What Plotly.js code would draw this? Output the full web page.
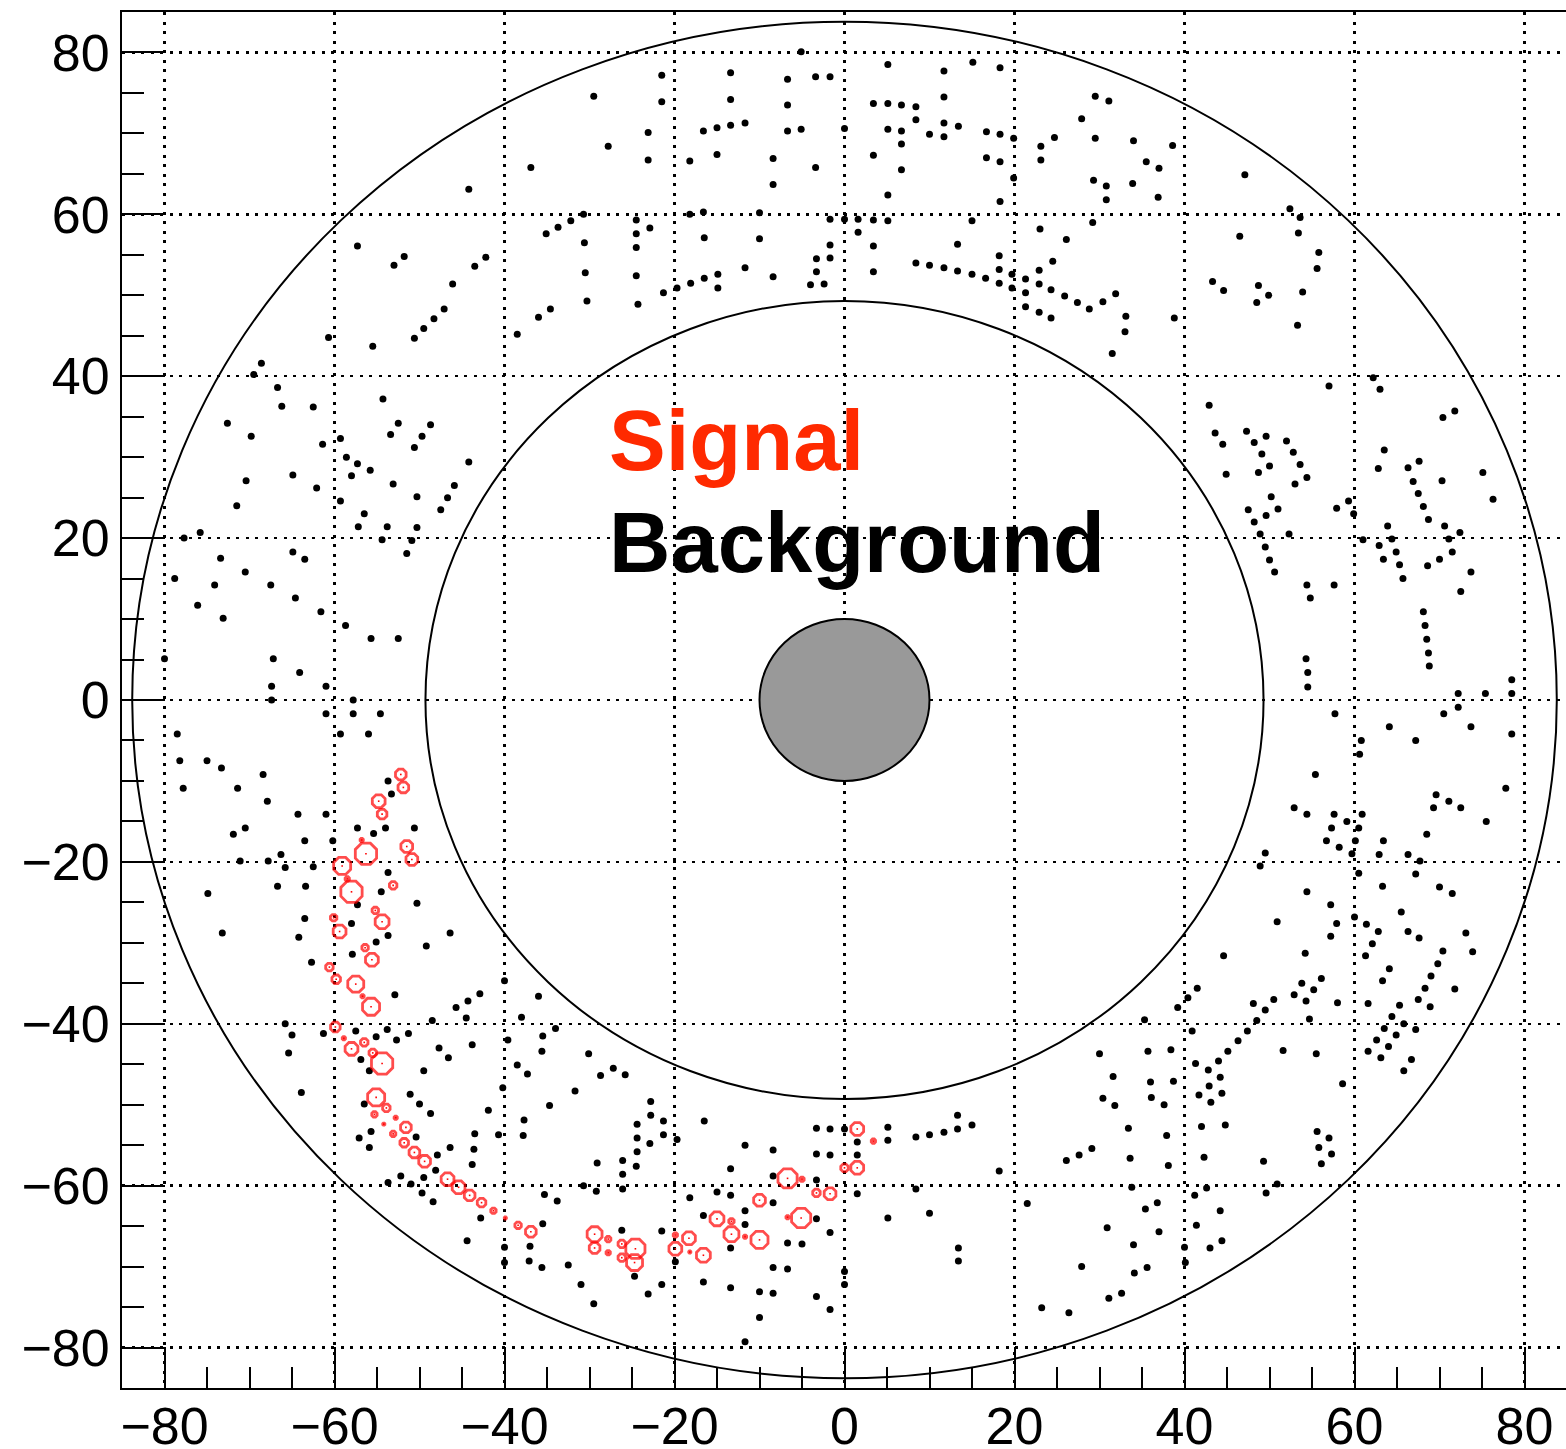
<!DOCTYPE html>
<html>
<head>
<meta charset="utf-8">
<script src="https://cdn.plot.ly/plotly-3.0.1.min.js"></script>
<style>
  html, body { margin: 0; padding: 0; background: #ffffff; overflow: hidden; }
  #plot { width: 1570px; height: 1449px; }
</style>
</head>
<body>
<div id="plot"></div>
<script>
// Detector geometry (cm)
const beamPipeRadius = 10;
const innerWallRadius = 49.3;
const outerWallRadius = 83.8;

// Axis ticks
const tickValues = [-80, -60, -40, -20, 0, 20, 40, 60, 80];

// Background hits [x, y], grouped by region of the chamber
const bgUpperLeft = [
  [-44.2,63.1],[-57.3,56.1],[-51.8,54.8],[-53.0,53.7],[-42.2,54.7],[-43.5,53.6],[-46.1,51.4],[-47.1,48.3],
  [-48.3,47.1],[-49.5,45.9],[-50.6,44.7],[-55.5,43.7],[-60.7,44.8],[-68.6,41.6],[-69.5,40.2],[-66.7,38.6],
  [-66.2,36.3],[-62.5,36.2],[-54.3,37.2],[-52.5,34.2],[-53.4,32.8],[-48.7,34.0],[-49.7,32.6],[-50.6,31.2],
  [-72.6,34.2],[-69.8,32.6],[-61.4,31.6],[-59.3,32.3],[-58.6,30.0],[-57.3,29.2],[-55.8,28.4],[-44.2,29.4]
];
const bgUpperCentreLeft = [
  [-29.5,74.6],[-21.5,77.2],[-21.5,73.9],[-36.9,65.8],[-27.8,68.4],[-23.1,70.1],[-23.1,66.7],[-13.4,77.5],
  [-13.4,74.2],[-16.6,70.3],[-15.0,70.7],[-13.4,71.0],[-11.7,71.3],[-18.2,66.6],[-15.0,67.4],[-6.7,76.7],
  [-6.7,73.5],[-6.7,70.3],[-5.1,70.5],[-5.1,80.1],[-3.4,77.0],[-1.7,77.0],[-8.4,66.9],[-8.4,63.7],
  [-3.4,65.8],[0.0,70.6],[-30.7,60.0],[-32.2,59.2],[-33.7,58.4],[-35.1,57.6],[-30.6,56.5],[-30.5,52.8],
  [-30.3,49.3],[-34.6,48.3],[-36.0,47.3],[-38.5,45.2],[-24.5,59.3],[-24.5,57.6],[-24.5,55.9],[-22.9,58.3],
  [-24.5,52.4],[-24.3,48.9],[-21.3,50.3],[-19.7,50.9],[-18.1,51.5],[-16.5,52.1],[-14.9,52.6],[-14.9,50.9],
  [-18.2,60.0],[-16.6,60.3],[-16.5,57.1],[-11.7,53.4],[-10.0,60.2],[-10.0,57.0],[-8.4,52.3],[-4.0,51.3],
  [-2.4,51.4],[-3.3,52.9],[-3.3,54.5],[-1.7,54.6],[-1.7,56.2],[-1.7,59.4],[0.0,59.4],[1.6,59.4],[1.6,57.8]
];
const bgUpperCentreRight = [
  [5.1,78.5],[11.7,77.7],[15.1,78.8],[18.3,78.1],[11.7,74.5],[3.4,73.7],[5.1,73.7],[6.7,73.5],[8.4,73.3],
  [8.4,71.7],[11.7,71.3],[13.4,70.9],[11.7,69.6],[10.0,69.9],[5.1,70.5],[6.7,70.3],[6.7,68.7],[3.4,67.3],
  [6.7,65.5],[5.1,62.4],[16.7,70.2],[18.3,69.9],[16.7,67.0],[18.3,66.5],[19.9,69.4],[19.9,64.5],[18.3,61.6],
  [23.1,68.4],[23.1,66.7],[24.7,69.5],[27.9,71.8],[29.5,74.6],[31.1,74.0],[29.5,69.4],[34.0,69.1],[38.6,68.5],
  [35.5,66.5],[37.0,65.7],[29.3,64.2],[30.8,63.5],[30.8,61.8],[33.9,63.8],[36.9,62.1],
  [3.4,59.3],[5.1,59.2],[3.4,56.1],[3.4,52.9],[15.0,59.2],[13.3,56.3],[8.4,54.0],[10.0,53.7],[11.7,53.4],
  [13.3,53.0],[15.0,52.6],[16.6,52.1],[18.2,51.5],[18.2,53.2],[18.2,54.9],[19.7,52.6],[19.7,50.9],[21.3,52.0],
  [21.3,50.3],[21.3,48.6],[22.9,53.1],[22.9,51.4],[22.9,47.9],[24.3,50.7],[24.3,47.2],[24.5,54.2],[23.0,58.2],
  [26.1,56.9],[29.2,59.0],[25.9,49.9],[27.4,49.1],[28.8,48.3],[30.4,49.2],[31.9,50.2],[33.1,47.4],[33.0,45.5],
  [31.5,42.8],[38.8,47.2],[43.3,51.7],[44.6,50.6],[42.9,36.4],[43.6,33.0],[44.5,31.6],[44.9,27.9]
];
const bgUpperRight = [
  [47.1,64.9],[52.4,60.7],[53.6,59.6],[46.5,57.3],[53.4,57.7],[55.8,55.3],[55.6,53.3],[48.7,51.2],[49.9,50.0],
  [48.5,49.1],[53.9,50.4],[53.3,46.3],[57.0,38.8],[62.2,39.8],[63.0,38.4],[70.4,34.9],[71.8,35.7],[47.3,33.2],
  [48.2,31.8],[49.6,32.6],[49.1,30.4],[50.0,28.9],[52.0,32.0],[52.8,30.6],[53.6,29.1],[48.7,28.1],[63.5,30.9],
  [62.8,28.6],[66.3,28.7],[67.6,29.5],[75.1,28.1]
];
const bgMidLeft = [
  [-70.4,27.1],[-64.9,27.8],[-62.1,26.2],[-71.5,24.0],[-75.8,20.7],[-77.7,20.0],[-58.0,27.7],[-53.1,26.7],
  [-59.3,24.6],[-56.5,23.0],[-57.2,21.4],[-53.8,21.4],[-50.3,25.1],[-50.3,21.3],[-54.4,19.8],[-50.9,19.7],
  [-51.5,18.1],[-45.9,26.5],[-46.7,25.0],[-47.5,23.5],[-73.4,17.5],[-78.8,15.0],[-74.1,14.2],[-70.5,15.8],
  [-76.1,11.7],[-73.1,10.1],[-67.5,14.2],[-64.9,18.3],[-63.5,17.4],[-64.6,12.6],[-61.6,10.9],[-58.7,9.2],
  [-55.7,7.6],[-52.5,7.6],[-80.0,5.1],[-67.2,5.1],[-64.1,3.4],[-67.4,1.7],[-67.4,0.0],[-61.0,1.7],[-61.0,-1.7],
  [-57.8,0.0],[-57.8,-1.7],[-54.6,-1.7],[-59.3,-4.2],[-56.0,-4.2],[-78.5,-4.2],[-78.2,-7.5],[-75.0,-7.5],
  [-73.3,-8.4],[-68.4,-9.2],[-77.8,-10.9],[-71.4,-10.9],[-67.9,-12.5],[-64.3,-14.1],[-61.0,-14.1],[-70.5,-15.8],
  [-71.9,-16.6],[-63.5,-17.4],[-60.2,-17.4],[-66.3,-19.1],[-71.1,-19.9],[-67.8,-19.9],[-65.8,-20.7],[-62.5,-20.6],
  [-66.7,-23.0],[-63.4,-23.0],[-74.9,-23.9],[-57.3,-15.8],[-54.0,-15.8],[-50.6,-15.8],[-55.4,-16.5],[-53.7,-10.0],
  [-53.3,-11.6],[-53.7,-21.3],[-54.5,-23.7],[-57.3,-25.3],[-50.3,-25.1],[-63.5,-27.0],[-58.0,-27.6]
];
const bgMidRight = [
  [54.4,27.5],[53.0,26.7],[50.2,25.1],[47.5,23.5],[51.0,23.6],[49.6,22.8],[48.2,22.0],[48.9,20.5],[52.3,20.5],
  [49.5,18.9],[50.0,17.3],[50.6,15.8],[57.9,23.7],[59.3,24.6],[59.9,23.0],[66.9,27.0],[70.3,27.1],[76.3,24.8],
  [67.5,25.5],[68.1,23.9],[68.7,22.3],[70.6,21.5],[72.4,20.7],[63.9,21.5],[61.0,19.8],[64.4,19.9],[71.1,19.9],
  [62.9,19.1],[63.4,17.4],[64.9,18.3],[65.3,16.7],[65.7,15.0],[68.6,16.6],[70.0,17.4],[71.5,18.3],[73.7,15.8],
  [72.5,13.4],[54.4,14.2],[54.8,12.6],[57.6,14.2],[68.1,10.9],[68.3,9.2],[68.5,7.5],[68.7,5.8],[68.8,4.2],
  [54.3,5.1],[54.5,3.4],[54.5,1.6],[78.5,2.5],[78.5,0.8],[75.4,0.8],[72.2,0.8],[72.2,-0.9],[70.5,-1.7],
  [73.7,-3.3],[78.5,-4.2],[64.1,-3.3],[67.2,-5.0],[57.7,-1.7],[60.8,-5.0],[60.6,-6.7],[55.4,-9.2],[77.8,-10.9],
  [69.6,-11.7],[71.1,-12.5],[69.3,-13.3],[72.5,-13.3],[75.5,-15.0],[68.5,-16.6],[52.9,-13.3],[54.4,-14.1],
  [57.6,-14.1],[60.9,-14.1],[59.1,-15.0],[57.3,-15.8],[60.5,-15.8],[56.7,-17.4],[60.1,-17.4],[58.2,-18.2],
  [59.7,-19.0],[63.4,-17.4],[62.9,-19.1],[66.3,-19.1],[67.7,-19.9],[49.5,-18.9],[48.9,-20.5],[60.5,-21.4],
  [67.2,-21.5],[54.4,-23.7],[63.3,-23.0],[70.0,-23.1],[71.5,-23.9],[57.2,-25.3],[65.5,-26.2],[50.9,-27.4],
  [57.9,-27.6],[60.0,-26.8],[61.4,-27.7]
];
const bgLowerLeft = [
  [-73.2,-28.8],[-64.2,-29.3],[-62.7,-32.4],[-57.9,-31.4],[-55.1,-29.9],[-53.7,-29.1],[-49.2,-30.4],[-46.4,-28.8],
  [-52.9,-36.4],[-42.9,-36.3],[-44.3,-37.2],[-45.7,-38.0],[-44.5,-39.3],[-48.5,-39.6],[-65.8,-40.0],[-65.0,-41.4],
  [-61.3,-41.2],[-65.4,-43.6],[-57.5,-40.9],[-53.8,-40.7],[-55.1,-41.6],[-52.7,-42.0],[-51.3,-41.2],[-56.9,-44.4],
  [-55.9,-45.8],[-47.7,-43.0],[-46.6,-44.2],[-49.5,-45.8],[-43.8,-42.6],[-63.9,-48.5],[-56.5,-49.9],[-51.1,-48.7],
  [-50.0,-49.9],[-48.7,-51.1],[-41.9,-50.7],[-55.7,-53.3],[-57.1,-54.1],[-55.9,-55.3],[-50.4,-54.0],[-43.5,-53.6],
  [-43.6,-55.5],[-46.4,-55.3],[-47.9,-56.2],[-43.8,-57.4],[-48.1,-58.1],[-49.5,-59.0],[-52.2,-58.8],[-53.7,-59.6],
  [-51.0,-59.8],[-49.7,-60.9],[-48.4,-62.0],[-42.8,-64.0],[-44.4,-66.8]
];
const bgLowerCentreLeft = [
  [-40.0,-34.7],[-36.0,-36.6],[-38.0,-39.2],[-34.0,-40.6],[-35.5,-41.5],[-39.6,-42.0],[-35.6,-43.4],[-38.5,-45.1],
  [-37.3,-46.2],[-30.1,-43.7],[-28.7,-46.4],[-27.2,-45.5],[-25.8,-46.3],[-31.7,-48.3],[-40.2,-47.9],[-34.7,-50.1],
  [-37.7,-51.9],[-37.8,-53.8],[-40.7,-53.7],[-22.8,-49.6],[-22.8,-51.3],[-21.3,-52.0],[-21.3,-53.7],[-22.9,-54.8],
  [-24.4,-52.4],[-24.4,-54.1],[-24.4,-55.8],[-24.5,-57.6],[-26.1,-56.9],[-26.1,-58.6],[-26.1,-60.4],[-29.1,-57.2],
  [-30.7,-60.0],[-29.2,-60.7],[-35.3,-61.1],[-33.8,-61.9],[-35.5,-64.7],[-40.0,-67.6],[-40.0,-69.5],[-37.0,-67.5],
  [-37.1,-69.3],[-35.6,-70.1],[-32.5,-69.8],[-31.0,-72.2],[-29.5,-74.6],[-26.2,-65.5],[-24.7,-71.2],[-23.1,-73.4],
  [-21.5,-65.6],[-21.5,-72.2],[-19.7,-54.3],[-19.9,-69.4],[-18.2,-61.5],[-16.6,-63.7],[-16.6,-71.9],[-16.5,-52.0],
  [-15.0,-60.8],[-13.4,-57.9],[-13.4,-61.2],[-13.4,-67.7],[-13.4,-72.6],[-11.7,-55.0],[-11.7,-63.1],[-11.7,-64.8],
  [-11.7,-79.3],[-10.0,-73.1],[-10.0,-76.3],[-8.4,-55.6],[-8.4,-58.8],[-8.4,-62.1],[-8.4,-70.1],[-8.4,-73.3],
  [-6.7,-67.1],[-6.7,-70.3],[-5.0,-67.2],[-3.3,-52.9],[-1.7,-53.0],[0.0,-53.0],[-3.3,-56.1],[-1.7,-56.2],
  [-3.3,-59.3],[-3.3,-64.1],[-1.7,-65.8],[-3.3,-73.7],[-1.7,-75.3],[0.0,-70.6],[0.0,-72.2],[1.5,-54.6],
  [1.5,-56.2],[1.5,-61.0]
];
const bgLowerCentreRight = [
  [5.1,-52.8],[5.1,-54.4],[8.4,-54.0],[10.0,-53.7],[11.7,-53.4],[13.3,-53.0],[13.3,-51.3],[15.0,-52.5],[18.2,-58.2],
  [8.4,-60.4],[5.1,-64.0],[10.0,-63.4],[13.4,-67.7],[13.4,-69.3],[21.5,-62.2],[23.2,-75.1],[26.4,-75.7],[31.1,-73.9],
  [32.6,-73.3],[27.9,-70.0],[34.1,-70.8],[35.6,-70.1],[34.0,-67.3],[30.9,-65.2],[37.0,-65.7],[35.4,-62.9],[36.8,-62.1],
  [33.8,-60.2],[26.1,-56.9],[27.6,-56.2],[29.1,-55.4],[33.6,-56.6],[33.4,-52.9],[37.9,-53.8],[38.1,-57.5],[30.0,-43.7],
  [31.6,-46.5],[30.4,-49.2],[31.8,-50.1],[35.7,-43.4],[36.0,-47.2],[36.1,-49.1],[37.6,-50.0],[38.7,-47.1],[38.4,-43.2],
  [35.3,-39.5],[39.2,-38.0],[40.4,-36.8],[41.5,-35.6],[44.6,-31.6],[40.9,-40.9],[41.3,-44.9],[42.8,-45.7],[44.0,-44.6],
  [44.2,-46.6],[42.9,-47.7],[44.4,-48.6],[41.7,-48.8],[43.1,-49.7],[45.1,-43.4],[42.0,-52.7],[44.8,-52.5],[42.3,-56.5],
  [41.2,-61.2],[42.6,-60.3],[41.4,-64.9],[44.2,-63.1],[44.4,-66.8],[43.0,-67.7],[40.0,-67.6],[40.1,-69.5]
];
const bgLowerRight = [
  [57.2,-29.2],[54.2,-31.3],[53.8,-35.0],[55.2,-35.8],[56.1,-34.4],[52.9,-36.4],[54.3,-37.2],[54.7,-39.4],[58.0,-37.4],
  [50.5,-37.0],[49.5,-38.3],[48.1,-37.5],[48.5,-39.6],[47.4,-40.9],[46.3,-42.1],[51.6,-43.3],[55.5,-43.7],[58.6,-47.4],
  [55.6,-53.3],[57.0,-54.1],[55.8,-55.3],[57.3,-56.1],[56.1,-57.3],[49.3,-57.0],[50.9,-59.8],[49.6,-60.9],[61.3,-31.6],
  [62.1,-30.1],[62.8,-28.6],[66.3,-28.6],[67.6,-29.4],[73.1,-28.8],[73.9,-31.1],[70.4,-31.0],[69.8,-32.6],[69.0,-34.1],
  [68.3,-35.6],[67.5,-37.0],[68.9,-37.9],[71.8,-35.7],[64.1,-33.2],[63.3,-34.7],[61.6,-37.5],[65.3,-37.7],[64.4,-39.1],
  [65.8,-40.0],[63.5,-40.6],[67.2,-40.7],[62.6,-42.0],[64.9,-41.4],[64.0,-42.8],[61.6,-43.4],[63.1,-44.2],[66.7,-44.4],
  [65.8,-45.8]
];

// Signal track hits [x, y, charge]
const signalHits = [
  [-52.2,-9.2,10],[-51.9,-10.8,10],[-54.8,-12.5,12],[-54.4,-14.1,9],[-56.8,-17.3,3],[-56.3,-19.0,20],
  [-51.5,-18.1,11],[-50.9,-19.7,11],[-59.1,-20.5,16],[-58.5,-22.1,4],[-58.0,-23.7,20],[-53.1,-22.9,7],
  [-55.2,-26.0,6],[-54.4,-27.4,13],[-60.1,-26.9,6],[-59.4,-28.6,12],[-56.4,-30.6,6],[-55.6,-32.1,12],
  [-60.6,-33.0,7],[-59.8,-34.5,8],[-57.5,-35.1,15],[-56.7,-36.6,3],[-55.7,-37.9,16],[-59.9,-40.4,9],
  [-58.9,-41.8,3],[-56.5,-42.3,7],[-58.0,-43.1,12],[-55.5,-43.6,7],[-54.4,-44.9,20],[-55.1,-49.1,16],
  [-53.9,-50.4,7],[-55.3,-51.2,5],[-52.8,-51.6,3],[-54.2,-52.4,2],[-51.6,-52.8,10],[-53.1,-53.6,5],
  [-51.8,-54.7,8],[-50.6,-55.9,10],[-49.4,-57.0,11],[-46.7,-59.2,12],[-45.4,-60.2,12],[-44.1,-61.2,10],
  [-42.7,-62.1,8],[-41.3,-63.1,5],[-39.9,-64.0,2],[-38.4,-64.9,6],[-36.9,-65.7,10],[-29.4,-66.0,14],
  [-29.4,-67.7,10],[-27.8,-66.6,5],[-27.8,-68.3,4],[-26.2,-67.2,7],[-26.2,-68.9,7],[-24.6,-67.8,18],
  [-24.7,-69.5,15],[-19.9,-66.1,4],[-19.9,-67.8,12],[-18.3,-66.5,12],[-18.2,-68.2,2],[-16.6,-68.6,13],
  [-15.0,-64.1,13],[-13.3,-64.4,5],[-13.3,-66.0,14],[-11.7,-66.3,3],[-10.0,-66.7,16],[-10.0,-61.8,11],
  [-6.7,-59.1,18],[-5.0,-59.2,4],[-6.7,-63.9,3],[-5.1,-64.0,18],[-3.3,-60.9,7],[-1.7,-61.0,11],
  [0.0,-57.8,7],[1.5,-57.8,12],[1.5,-53.0,12],[3.4,-54.5,4]
];

const background = [].concat(bgUpperLeft, bgUpperCentreLeft, bgUpperCentreRight, bgUpperRight,
  bgMidLeft, bgMidRight, bgLowerLeft, bgLowerCentreLeft, bgLowerCentreRight, bgLowerRight);

const signalRed = '#ff0000';
const labelRed = '#ff2a00';
// pixels of marker per unit of charge
const chargeToPx = 1.15;

const traces = [
  {
    type: 'scatter', mode: 'markers', name: 'Background', hoverinfo: 'x+y',
    x: background.map(p => p[0]), y: background.map(p => p[1]),
    marker: { symbol: 'circle', size: 7, color: '#000000', line: { width: 0 } }
  },
  {
    type: 'scatter', mode: 'markers', name: 'Signal', hoverinfo: 'x+y',
    x: signalHits.map(p => p[0]), y: signalHits.map(p => p[1]),
    marker: {
      symbol: 'octagon-open',
      size: signalHits.map(p => p[2] * chargeToPx),
      color: signalRed,
      line: { width: 2.8, color: signalRed }
    }
  },
  {
    type: 'scatter', mode: 'markers', name: 'Signal centre', hoverinfo: 'skip',
    x: signalHits.map(p => p[0]), y: signalHits.map(p => p[1]),
    marker: { symbol: 'square', size: 1.6, color: signalRed, line: { width: 0 } }
  }
];

function ring(r, extra) {
  return Object.assign({
    type: 'circle', xref: 'x', yref: 'y',
    x0: -r, x1: r, y0: -r, y1: r,
    line: { color: '#000000', width: 2 }, layer: 'between'
  }, extra || {});
}

const axisCommon = {
  range: [-85, 85],
  tickvals: tickValues,
  ticks: 'inside',
  tickwidth: 2,
  tickcolor: '#000000',
  showline: true,
  linecolor: '#000000',
  linewidth: 2,
  mirror: true,
  showgrid: true,
  gridcolor: '#000000',
  gridwidth: 2.5,
  griddash: '3px,6.5px',
  zeroline: false,
  tickfont: { family: 'Liberation Sans, Arial, sans-serif', size: 52, color: '#000000' },
  minor: { dtick: 5, tick0: 0, ticks: 'inside', tickwidth: 2, tickcolor: '#000000', showgrid: false }
};

const layout = {
  width: 1570,
  height: 1449,
  margin: { l: 122, r: 3, t: 12, b: 61 },
  paper_bgcolor: '#ffffff',
  plot_bgcolor: '#ffffff',
  showlegend: false,
  xaxis: Object.assign({}, axisCommon, {
    ticklen: 41, ticklabelstandoff: -8,
    minor: Object.assign({}, axisCommon.minor, { ticklen: 21 })
  }),
  yaxis: Object.assign({}, axisCommon, {
    ticklen: 43, ticklabelstandoff: 0,
    minor: Object.assign({}, axisCommon.minor, { ticklen: 22 })
  }),
  shapes: [
    ring(outerWallRadius),
    ring(innerWallRadius),
    ring(beamPipeRadius, { fillcolor: '#999999' })
  ],
  annotations: [
    {
      xref: 'x', yref: 'y', x: -27.9, y: 32.0, xanchor: 'left', yanchor: 'middle',
      text: '<b>Signal</b>', showarrow: false,
      font: { family: 'Liberation Sans, Arial, sans-serif', size: 85, color: labelRed }
    },
    {
      xref: 'x', yref: 'y', x: -28.0, y: 19.4, xanchor: 'left', yanchor: 'middle',
      text: '<b>Background</b>', showarrow: false,
      font: { family: 'Liberation Sans, Arial, sans-serif', size: 85, color: '#000000' }
    }
  ]
};

Plotly.newPlot('plot', traces, layout, { staticPlot: true, displayModeBar: false });
</script>
</body>
</html>
